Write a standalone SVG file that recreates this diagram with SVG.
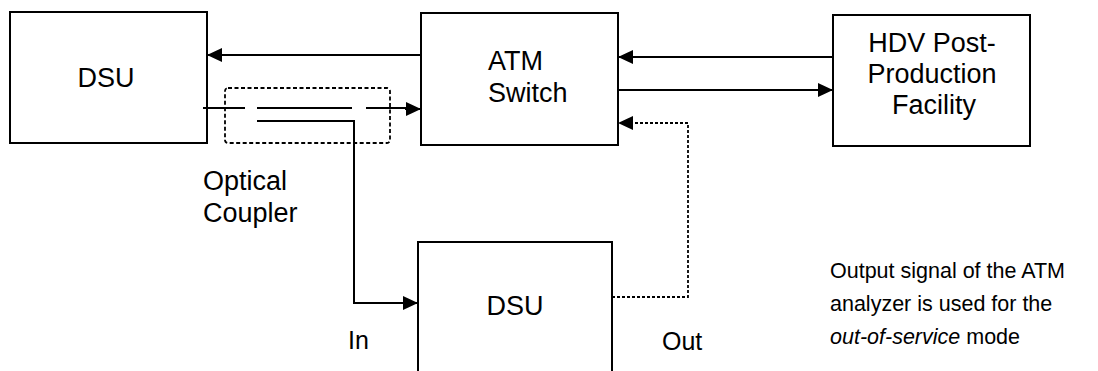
<svg xmlns="http://www.w3.org/2000/svg" width="1098" height="371" viewBox="0 0 1098 371">
<style>
.box{fill:#fff;stroke:#000;stroke-width:2}
.lbl{font-family:"Liberation Sans",Arial,sans-serif;font-size:27px;fill:#000}
.note{font-family:"Liberation Sans",Arial,sans-serif;font-size:21.5px;fill:#000}
.ln{fill:none;stroke:#000;stroke-width:2}
.dot{fill:none;stroke:#000;stroke-width:1.8;stroke-dasharray:3 2}
.dash{fill:none;stroke:#000;stroke-width:1.8;stroke-dasharray:4 2.5}
</style>
<defs>
<marker id="ah" markerUnits="userSpaceOnUse" markerWidth="15" markerHeight="14" refX="15" refY="7" orient="auto">
<path d="M0,0 L15,7 L0,14 z" fill="#000"/>
</marker>
</defs>
<rect width="1098" height="371" fill="#fff"/>
<g id="dsu-top">
<rect class="box" x="10" y="12" width="197" height="131"/>
<text class="lbl" x="106" y="87" text-anchor="middle">DSU</text>
</g>
<g id="atm-switch">
<rect class="box" x="421" y="13" width="197" height="132"/>
<text class="lbl" x="488" y="70">ATM</text>
<text class="lbl" x="488" y="102">Switch</text>
</g>
<g id="hdv">
<rect class="box" x="833" y="15" width="197" height="131"/>
<text class="lbl" x="932" y="52" text-anchor="middle">HDV Post-</text>
<text class="lbl" x="932" y="83" text-anchor="middle">Production</text>
<text class="lbl" x="934" y="114" text-anchor="middle">Facility</text>
</g>
<g id="optical-coupler">
<rect class="dash" x="225" y="88" width="165" height="55" rx="3"/>
<text class="lbl" x="203" y="190">Optical</text>
<text class="lbl" x="203" y="222">Coupler</text>
</g>
<g id="dsu-bottom">
<path class="ln" d="M418,380 V242 H612 V380"/>
<text class="lbl" x="515" y="315" text-anchor="middle">DSU</text>
</g>
<g id="connectors">
<path class="ln" d="M421,55 H207" marker-end="url(#ah)"/>
<path class="ln" d="M833,57 H618" marker-end="url(#ah)"/>
<path class="ln" d="M618,90 H833" marker-end="url(#ah)"/>
<path class="ln" d="M203,108 H245 M257,108 H352 M366,108 H407"/>
<path class="ln" d="M405,109 H421" marker-end="url(#ah)"/>
<path class="ln" d="M257,121 H354 V303 H418" marker-end="url(#ah)"/>
<path class="dot" d="M612,297 H688 V123 H618" marker-end="url(#ah)"/>
</g>
<g id="labels">
<text class="lbl" x="348" y="349" style="font-size:25px">In</text>
<text class="lbl" x="662" y="350" style="font-size:25px">Out</text>
<text class="note" x="830" y="278">Output signal of the ATM</text>
<text class="note" x="830" y="311">analyzer is used for the</text>
<text class="note" x="830" y="344"><tspan font-style="italic">out-of-service</tspan> mode</text>
</g>
</svg>
